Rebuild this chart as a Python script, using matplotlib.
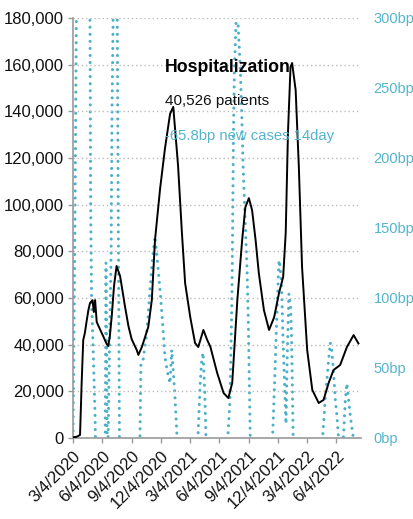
import matplotlib
matplotlib.use("Agg")
import matplotlib.pyplot as plt
from matplotlib.ticker import FuncFormatter, FixedLocator
import pandas as pd

plt.rcParams['font.family'] = ['Liberation Sans', 'DejaVu Sans']

# ---- data ----
hosp_dates = ["2020-03-04", "2020-03-15", "2020-03-26", "2020-03-31", "2020-04-05", "2020-04-10",
              "2020-04-16", "2020-04-21", "2020-04-26", "2020-05-04", "2020-05-08", "2020-05-12",
              "2020-05-17", "2020-05-27", "2020-06-06", "2020-06-17", "2020-06-22", "2020-06-27",
              "2020-07-03", "2020-07-10", "2020-07-18", "2020-07-29", "2020-08-06", "2020-08-13",
              "2020-08-24", "2020-09-03", "2020-09-19", "2020-09-24", "2020-10-05", "2020-10-15",
              "2020-10-25", "2020-11-05", "2020-11-15", "2020-12-01", "2020-12-16", "2021-01-01",
              "2021-01-11", "2021-01-26", "2021-02-07", "2021-02-17", "2021-03-05", "2021-03-20",
              "2021-03-30", "2021-04-15", "2021-04-27", "2021-05-07", "2021-05-28", "2021-06-17",
              "2021-07-02", "2021-07-14", "2021-07-30", "2021-08-14", "2021-08-24", "2021-09-04",
              "2021-09-14", "2021-09-25", "2021-10-05", "2021-10-21", "2021-11-06", "2021-11-22",
              "2021-12-07", "2021-12-20", "2021-12-28", "2022-01-04", "2022-01-12", "2022-01-17",
              "2022-01-28", "2022-02-07", "2022-02-17", "2022-03-05", "2022-03-21", "2022-04-10",
              "2022-04-25", "2022-05-11", "2022-05-26", "2022-06-16", "2022-07-07", "2022-07-28",
              "2022-08-12"]
hosp_values = [300, 500, 1300, 23600, 42000, 45000,
               50500, 54800, 57800, 59100, 54000, 59100,
               49700, 46700, 43700, 40300, 39400, 43700,
               52300, 65100, 73700, 69400, 62600, 56600,
               48000, 42400, 37700, 35600, 39000, 43300,
               47600, 59100, 84900, 107000, 124000, 138900,
               141900, 116600, 87900, 66400, 51800, 40700,
               39000, 46300, 42000, 39000, 27900, 19300,
               17100, 23600, 59100, 84800, 98900, 102800,
               97700, 84800, 70700, 54800, 46300, 51800,
               62100, 69000, 87900, 130700, 159000, 160700,
               149100, 116100, 73300, 37700, 20600, 15000,
               16300, 23600, 29100, 31300, 39000, 44100,
               40526]

cases_dates = ["2020-03-04", "2020-03-10", "2020-03-18", "2020-04-20", "2020-04-26", "2020-04-28",
               "2020-05-01", "2020-05-06", "2020-05-09", "2020-05-12", "2020-05-13", "2020-05-16",
               "2020-06-09", "2020-06-12", "2020-06-15", "2020-06-19", "2020-06-21", "2020-06-24",
               "2020-06-28", "2020-07-01", "2020-07-04", "2020-07-09", "2020-07-13", "2020-07-18",
               "2020-07-21", "2020-07-24", "2020-07-27", "2020-07-30", "2020-09-26", "2020-09-29",
               "2020-10-02", "2020-10-09", "2020-10-20", "2020-10-24", "2020-10-30", "2020-11-05",
               "2020-11-09", "2020-11-15", "2020-11-23", "2020-12-01", "2020-12-10", "2020-12-16",
               "2020-12-23", "2021-01-01", "2021-01-06", "2021-01-10", "2021-01-17", "2021-01-22",
               "2021-01-26", "2021-03-26", "2021-03-29", "2021-04-05", "2021-04-10", "2021-04-14",
               "2021-04-17", "2021-04-20", "2021-04-23", "2021-04-25", "2021-06-28", "2021-07-01",
               "2021-07-07", "2021-07-13", "2021-07-15", "2021-07-18", "2021-07-21", "2021-07-26",
               "2021-08-01", "2021-08-08", "2021-08-13", "2021-08-17", "2021-08-23", "2021-08-29",
               "2021-09-02", "2021-09-08", "2021-09-11", "2021-11-14", "2021-11-17", "2021-11-25",
               "2021-11-30", "2021-12-04", "2021-12-07", "2021-12-11", "2021-12-15", "2021-12-19",
               "2021-12-26", "2021-12-29", "2022-01-01", "2022-01-07", "2022-01-12", "2022-01-15",
               "2022-01-20", "2022-01-23", "2022-04-21", "2022-04-23", "2022-04-30", "2022-05-11",
               "2022-05-16", "2022-05-21", "2022-05-25", "2022-06-01", "2022-06-06", "2022-06-10",
               "2022-06-13", "2022-06-23", "2022-06-26", "2022-07-02", "2022-07-07", "2022-07-11",
               "2022-07-18", "2022-07-27", "2022-08-12"]
cases_bp = [0, 150, 420, 420, 300, 170,
            98, 63, 39, 15, 0, -40,
            -40, -30, 125, -10, -10, 40,
            90, 134, 240, 330, 420, 420,
            260, 130, 0, -40, -40, 0,
            54, 56, 75, 86, 105, 122,
            132, 144, 125, 105, 78, 58,
            48, 39, 63, 51, 27, 4,
            -40, -40, 0, 39, 56, 61,
            45, 27, 0, -40, -40, 3,
            27, 98, 146, 220, 265, 297,
            297, 265, 229, 194, 158, 122,
            86, 4, -40, -40, 0, 51,
            86, 110, 127, 122, 110, 75,
            27, 10, 51, 103, 95, 75,
            4, -40, -40, 3, 27, 56,
            68, 62, 51, 27, 15, 3,
            -20, -20, 0, 27, 39, 30,
            15, 0, -65.8]

x_tick_dates = ["2020-03-04", "2020-06-04", "2020-09-04", "2020-12-04", "2021-03-04",
                "2021-06-04", "2021-09-04", "2021-12-04", "2022-03-04", "2022-06-04"]
x_tick_labels = ["3/4/2020", "6/4/2020", "9/4/2020", "12/4/2020", "3/4/2021",
                 "6/4/2021", "9/4/2021", "12/4/2021", "3/4/2022", "6/4/2022"]
left_ticks = [0, 20000, 40000, 60000, 80000, 100000, 120000, 140000, 160000, 180000]
right_ticks = [0, 50, 100, 150, 200, 250, 300]

title_text = "Hospitalization"
patients_text = "40,526 patients"
cases_text = "-65.8bp new cases 14day"

# ---- styling ----
BLUE = "#4aafc8"
BLUE_TXT = "#55b5cc"
GRAY = "#9a9a9a"

fig = plt.figure(figsize=(4.14, 5.19), dpi=100)
ax = fig.add_axes([73/414, 81/519, 288/414, 420/519])
ax2 = ax.twinx()

hd = pd.to_datetime(hosp_dates)
cd = pd.to_datetime(cases_dates)

ax2.plot(cd, cases_bp, color=BLUE, lw=2.2, linestyle=(0, (0.01, 2.3)),
         dash_capstyle='round', solid_capstyle='round')
ax.plot(hd, hosp_values, color='black', lw=1.4, zorder=5)

ax.set_zorder(ax2.get_zorder() + 1)
ax.patch.set_visible(False)

ax.set_xlim(pd.Timestamp("2020-03-04"), pd.Timestamp("2022-08-20"))
ax.set_ylim(0, 180000)
ax2.set_ylim(0, 300)

ax.yaxis.set_major_locator(FixedLocator(left_ticks))
ax.yaxis.set_major_formatter(FuncFormatter(lambda v, p: f"{int(v):,}"))
ax2.yaxis.set_major_locator(FixedLocator(right_ticks))
ax2.yaxis.set_major_formatter(FuncFormatter(lambda v, p: f"{int(v)}bp"))

ax.set_xticks(pd.to_datetime(x_tick_dates))
ax.set_xticklabels(x_tick_labels, rotation=45, ha='right', rotation_mode='anchor')

ax.grid(axis='y', color='#bbbbbb', lw=1.0, linestyle=(0, (1, 2)))
ax.grid(axis='x', visible=False)

for s in ['top', 'right']:
    ax.spines[s].set_visible(False)
for s in ax2.spines.values():
    s.set_visible(False)
ax.spines['left'].set_color(GRAY)
ax.spines['bottom'].set_color(GRAY)
ax.spines['left'].set_linewidth(1.2)
ax.spines['bottom'].set_linewidth(1.2)

ax.tick_params(axis='y', colors=GRAY, labelcolor='#111111', length=3.5, width=1, labelsize=12, pad=3)
ax.tick_params(axis='x', colors=GRAY, labelcolor='#111111', length=3.5, width=1, labelsize=12, pad=4)
ax2.tick_params(axis='y', length=0, labelcolor=BLUE_TXT, labelsize=10.5, pad=9)

fig.text(165/414, 1 - 71.5/519, title_text, fontsize=12.7, fontweight='bold', color='black',
         ha='left', va='baseline', zorder=1)
fig.text(165/414, 1 - 105/519, patients_text, fontsize=11, color='#111111',
         ha='left', va='baseline', zorder=1)
fig.text(165/414, 1 - 140/519, cases_text, fontsize=10.7, color=BLUE_TXT,
         ha='left', va='baseline', zorder=1)

fig.savefig("out.png", dpi=100)
